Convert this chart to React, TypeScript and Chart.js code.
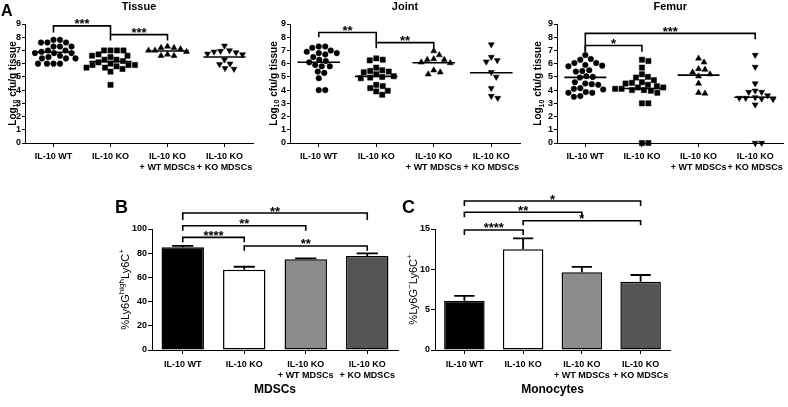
import React, { useEffect, useRef } from 'react';
import { Chart, registerables } from 'chart.js';
Chart.register(...registerables);

const FONT = '"Liberation Sans", Arial, Helvetica, sans-serif';
const SW = 788;
const SH = 407;

// ---------- data ----------
const groupLabels: string[][] = [
  ['IL-10 WT'],
  ['IL-10 KO'],
  ['IL-10 KO', '+ WT MDSCs'],
  ['IL-10 KO', '+ KO MDSCs'],
];
const cfuTicks = [0, 1, 2, 3, 4, 5, 6, 7, 8, 9];
const mdscTicks = [0, 20, 40, 60, 80, 100];
const monoTicks = [0, 5, 10, 15];

// Panel A: log10 cfu/g tissue
const tissueWT = [7.8, 7.8, 7.6, 7.6, 7.6, 7.3, 7.3, 7.3, 7.0, 7.0, 6.9, 6.8, 6.8, 6.8, 6.6, 6.5, 6.4, 6.4, 6.4, 6.0, 6.0, 6.0, 6.0];
const tissueKO = [7.0, 7.0, 7.0, 7.0, 6.7, 6.6, 6.6, 6.5, 6.3, 6.3, 6.2, 6.1, 6.0, 5.9, 5.9, 5.9, 5.8, 5.7, 5.7, 5.6, 5.4, 4.4];
const tissueWTMDSC = [7.3, 7.2, 7.2, 7.1, 7.0, 7.0, 6.9, 6.7, 6.6, 6.6];
const tissueKOMDSC = [7.35, 7.0, 6.95, 6.9, 6.85, 6.75, 6.7, 6.3, 6.0, 5.95, 5.65, 5.6];

const jointWT = [7.3, 7.3, 7.2, 7.0, 6.9, 6.8, 6.8, 6.7, 6.5, 6.3, 6.2, 6.1, 5.9, 5.8, 5.8, 5.3, 5.4, 4.9, 4.0, 4.0];
const jointKO = [6.4, 6.3, 6.25, 5.7, 5.5, 5.45, 5.4, 5.35, 5.2, 5.05, 5.0, 4.95, 4.9, 4.4, 4.3, 4.15, 3.95, 3.9, 3.65];
const jointWTMDSC = [6.95, 6.65, 6.35, 6.3, 6.3, 6.1, 6.05, 5.5, 5.35, 5.2];
const jointKOMDSC = [7.45, 6.5, 6.25, 6.15, 5.35, 5.0, 4.15, 3.55, 3.4];

const femurWT = [6.65, 6.35, 6.3, 6.05, 6.05, 5.9, 5.85, 5.8, 5.5, 5.45, 5.4, 5.05, 5.0, 4.95, 4.6, 4.5, 4.45, 4.4, 4.15, 4.1, 4.05, 3.85, 3.8, 3.8, 3.5, 3.55];
const femurKO = [6.3, 6.2, 5.7, 5.2, 5.0, 4.95, 4.75, 4.6, 4.55, 4.5, 4.4, 4.3, 4.2, 4.1, 4.0, 3.95, 4.0, 4.1, 4.2, 3.8, 3.0, 3.0, 0, 0];
const femurWTMDSC = [6.4, 6.1, 5.6, 5.55, 5.35, 5.2, 5.05, 4.5, 3.8, 3.75];
const femurKOMDSC = [6.65, 5.75, 4.5, 3.95, 3.85, 3.85, 3.6, 3.45, 3.35, 3.4, 3.3, 3.4, 2.9, 0, 0];

// Panel B / C: mean and SEM
const mdscMeans = [85, 66.3, 75, 77.7];
const mdscSEM = [1.0, 2.5, 0.8, 2.2];
const monoMeans = [6.1, 12.5, 9.65, 8.45];
const monoSEM = [0.6, 1.35, 0.65, 0.85];

// brackets: [fromGroup, toGroup, level, dropFrom, dropTo, label]
type Bracket = [number, number, number, number, number, string];
const tissueBrackets: Bracket[] = [
  [0, 1, 8.86, 8.35, 8.2, '***'],
  [1, 2, 8.2, 7.75, 7.75, '***'],
];
const jointBrackets: Bracket[] = [
  [0, 1, 8.36, 8.0, 7.59, '**'],
  [1, 2, 7.59, 7.16, 7.16, '**'],
];
const femurBrackets: Bracket[] = [
  [0, 3, 8.29, 6.91, 7.84, '***'],
  [0, 1, 7.37, 6.91, 6.91, '*'],
];
const mdscBrackets: Bracket[] = [
  [0, 3, 113.2, 107.4, 107.4, '**'],
  [0, 2, 102.7, 98.6, 98.6, '**'],
  [0, 1, 93.1, 89, 89, '****'],
  [1, 3, 86, 82.1, 82.1, '**'],
];
const monoBrackets: Bracket[] = [
  [0, 3, 18.47, 17.85, 17.85, '*'],
  [0, 2, 17.07, 16.45, 16.45, '**'],
  [1, 3, 16.03, 15.46, 15.46, '*'],
  [0, 1, 14.88, 14.26, 14.26, '****'],
];

// ---------- styles / layout ----------
const barColors = ['#000000', '#ffffff', '#8c8c8c', '#555555'];
const markerStyles = ['circle', 'rect', 'triangle', 'triangle'];
const markerRot = [0, 0, 0, 180];
const markerRadius = [2.8, 3.7, 3.5, 3.5];
const YW = 22;
const XH = 30;

type Seg = { t: string; k?: 'sup' | 'sub' };
interface Spec {
  area: { l: number; r: number; t: number; b: number };
  letter?: { text: string; x: number; y: number; size: number };
  title: string;
  titleY: number;
  titleSize: number;
  yTitle: Seg[];
  yTitleX: number;
  yTitleSize: number;
  yTitleBold: boolean;
  brackets: Bracket[];
  starSize: number;
  starOffset: number;
  means?: number[];
  errs?: number[];
}

const logTitle: Seg[] = [{ t: 'Log' }, { t: '10', k: 'sub' }, { t: ' cfu/g tissue' }];

function mean(a: number[]) {
  return a.reduce((s, v) => s + v, 0) / a.length;
}

function swarm(vals: number[], pxX: number, pxY: number, d: number): number[] {
  const idx = vals.map((_, i) => i).sort((a, b) => vals[b] - vals[a]);
  const placed: [number, number][] = [];
  const out = new Array(vals.length).fill(0);
  for (const i of idx) {
    const y = vals[i] * pxY;
    for (let k = 0; k < 400; k++) {
      const c = (k % 2 === 1 ? 1 : -1) * Math.ceil(k / 2) * 0.5;
      if (placed.every(([px, py]) => Math.hypot(px - c, py - y) >= d)) {
        out[i] = c / pxX;
        placed.push([c, y]);
        break;
      }
    }
  }
  return out;
}

function drawRich(ctx: CanvasRenderingContext2D, segs: Seg[], x: number, y: number, size: number, bold: boolean) {
  ctx.save();
  ctx.translate(x, y);
  ctx.rotate(-Math.PI / 2);
  const w = bold ? 'bold ' : '';
  const fontFor = (s: Seg) => `${w}${s.k ? Math.round(size * 0.7) : size}px ${FONT}`;
  let total = 0;
  for (const s of segs) {
    ctx.font = fontFor(s);
    total += ctx.measureText(s.t).width;
  }
  let cx = -total / 2;
  ctx.textAlign = 'left';
  ctx.textBaseline = 'alphabetic';
  ctx.fillStyle = '#000';
  const base = size * 0.36;
  for (const s of segs) {
    ctx.font = fontFor(s);
    const dy = s.k === 'sup' ? -size * 0.42 : s.k === 'sub' ? size * 0.28 : 0;
    ctx.fillText(s.t, cx, base + dy);
    cx += ctx.measureText(s.t).width;
  }
  ctx.restore();
}

function decor(spec: Spec) {
  return {
    id: 'decor',
    afterDraw(chart: any) {
      const ctx: CanvasRenderingContext2D = chart.ctx;
      const xs = chart.scales.x;
      const ys = chart.scales.y;
      const ca = chart.chartArea;
      ctx.save();
      ctx.fillStyle = '#000';
      ctx.strokeStyle = '#000';
      if (spec.letter) {
        ctx.font = `bold ${spec.letter.size}px ${FONT}`;
        ctx.textAlign = 'left';
        ctx.textBaseline = 'alphabetic';
        ctx.fillText(spec.letter.text, spec.letter.x, spec.letter.y);
      }
      ctx.font = `bold ${spec.titleSize}px ${FONT}`;
      ctx.textAlign = 'center';
      ctx.textBaseline = 'middle';
      ctx.fillText(spec.title, (ca.left + ca.right) / 2, spec.titleY);
      drawRich(ctx, spec.yTitle, spec.yTitleX, (ca.top + ca.bottom) / 2, spec.yTitleSize, spec.yTitleBold);

      // error bars
      if (spec.means && spec.errs) {
        const meta = chart.getDatasetMeta(0);
        ctx.lineWidth = 1.8;
        meta.data.forEach((bar: any, i: number) => {
          const y0 = ys.getPixelForValue(spec.means![i]);
          const y1 = ys.getPixelForValue(spec.means![i] + spec.errs![i]);
          const hw = bar.width * 0.25;
          ctx.beginPath();
          ctx.moveTo(bar.x, y0);
          ctx.lineTo(bar.x, y1);
          ctx.moveTo(bar.x - hw, y1);
          ctx.lineTo(bar.x + hw, y1);
          ctx.stroke();
        });
      }

      // significance brackets
      ctx.lineWidth = 1.6;
      for (const [a, b, lv, da, db, label] of spec.brackets) {
        const xa = xs.getPixelForValue(a);
        const xb = xs.getPixelForValue(b);
        const y = ys.getPixelForValue(lv);
        ctx.beginPath();
        ctx.moveTo(xa, ys.getPixelForValue(da));
        ctx.lineTo(xa, y);
        ctx.lineTo(xb, y);
        ctx.lineTo(xb, ys.getPixelForValue(db));
        ctx.stroke();
        ctx.font = `bold ${spec.starSize}px ${FONT}`;
        ctx.textAlign = 'center';
        ctx.textBaseline = 'alphabetic';
        ctx.fillText(label, (xa + xb) / 2, y + spec.starOffset);
      }
      ctx.restore();
    },
  };
}

function padFor(area: Spec['area']) {
  return { left: area.l - YW, right: SW - area.r, top: area.t, bottom: SH - area.b - XH };
}

function axisCommon(tickLen: number) {
  return {
    grid: { drawOnChartArea: false, drawTicks: true, tickLength: tickLen, color: '#000', lineWidth: 1 },
    border: { display: true, color: '#000', width: 1 },
  };
}

const tickFont = { family: FONT, size: 9, weight: 'bold' };

function scatterConfig(spec: Spec, groups: number[][]) {
  const pxX = (spec.area.r - spec.area.l) / 4;
  const pxY = (spec.area.b - spec.area.t) / 9;
  const datasets: any[] = [];
  groups.forEach((vals, g) => {
    const offs = swarm(vals, pxX, pxY, 6.5);
    datasets.push({
      type: 'scatter',
      data: vals.map((v, i) => ({ x: g + offs[i], y: v })),
      pointStyle: markerStyles[g],
      pointRotation: markerRot[g],
      pointRadius: markerRadius[g],
      pointBackgroundColor: '#000',
      pointBorderColor: '#000',
      pointBorderWidth: 0.5,
      showLine: false,
      clip: false,
    });
  });
  groups.forEach((vals, g) => {
    const m = mean(vals);
    datasets.push({
      type: 'scatter',
      data: [
        { x: g - 0.37, y: m },
        { x: g + 0.37, y: m },
      ],
      showLine: true,
      borderColor: '#000',
      borderWidth: 1.6,
      pointRadius: 0,
      clip: false,
    });
  });
  return {
    type: 'scatter',
    data: { datasets },
    options: {
      animation: false,
      responsive: false,
      events: [],
      layout: { padding: padFor(spec.area) },
      plugins: { legend: { display: false }, tooltip: { enabled: false }, title: { display: false } },
      scales: {
        x: {
          type: 'linear',
          min: -0.5,
          max: 3.5,
          afterBuildTicks: (ax: any) => {
            ax.ticks = groupLabels.map((_, i) => ({ value: i }));
          },
          afterFit: (ax: any) => {
            ax.height = XH;
          },
          ticks: {
            callback: (v: number) => groupLabels[v] ?? '',
            font: tickFont,
            color: '#000',
            padding: 4,
            maxRotation: 0,
            autoSkip: false,
          },
          ...axisCommon(4),
        },
        y: {
          min: 0,
          max: 9,
          afterBuildTicks: (ax: any) => {
            ax.ticks = cfuTicks.map((v) => ({ value: v }));
          },
          afterFit: (ax: any) => {
            ax.width = YW;
          },
          ticks: { font: tickFont, color: '#000', padding: 1, autoSkip: false },
          ...axisCommon(3),
        },
      },
    },
    plugins: [decor(spec)],
  };
}

function barConfig(spec: Spec, means: number[], ticks: number[], maxV: number) {
  return {
    type: 'bar',
    data: {
      labels: groupLabels,
      datasets: [
        {
          data: means,
          backgroundColor: barColors,
          borderColor: '#000',
          borderWidth: 1.5,
          borderSkipped: false,
          barPercentage: 0.69,
          categoryPercentage: 1,
        },
      ],
    },
    options: {
      animation: false,
      responsive: false,
      events: [],
      layout: { padding: padFor(spec.area) },
      plugins: { legend: { display: false }, tooltip: { enabled: false }, title: { display: false } },
      scales: {
        x: {
          type: 'category',
          afterFit: (ax: any) => {
            ax.height = XH;
          },
          ticks: {
            font: tickFont,
            color: '#000',
            padding: 5,
            maxRotation: 0,
            autoSkip: false,
          },
          ...axisCommon(4),
          grid: { offset: false, drawOnChartArea: false, drawTicks: true, tickLength: 4, color: '#000', lineWidth: 1 },
        },
        y: {
          min: 0,
          max: maxV,
          afterBuildTicks: (ax: any) => {
            ax.ticks = ticks.map((v) => ({ value: v }));
          },
          afterFit: (ax: any) => {
            ax.width = YW;
          },
          ticks: { font: tickFont, color: '#000', padding: 1, autoSkip: false },
          ...axisCommon(4),
        },
      },
    },
    plugins: [decor(spec)],
  };
}

const tissueSpec: Spec = {
  area: { l: 25, r: 253, t: 24, b: 143 },
  letter: { text: 'A', x: 1, y: 16, size: 16 },
  title: 'Tissue', titleY: 6.5, titleSize: 11,
  yTitle: logTitle, yTitleX: 12, yTitleSize: 10, yTitleBold: true,
  brackets: tissueBrackets, starSize: 13, starOffset: 2.5,
};
const jointSpec: Spec = {
  area: { l: 290, r: 520, t: 24, b: 143 },
  title: 'Joint', titleY: 6.5, titleSize: 11,
  yTitle: logTitle, yTitleX: 273, yTitleSize: 10, yTitleBold: true,
  brackets: jointBrackets, starSize: 13, starOffset: 2.5,
};
const femurSpec: Spec = {
  area: { l: 557, r: 785, t: 24, b: 143 },
  title: 'Femur', titleY: 6.5, titleSize: 11,
  yTitle: logTitle, yTitleX: 537.5, yTitleSize: 10, yTitleBold: true,
  brackets: femurBrackets, starSize: 13, starOffset: 2.5,
};
const mdscSpec: Spec = {
  area: { l: 152, r: 398, t: 229, b: 350 },
  letter: { text: 'B', x: 115, y: 213, size: 18 },
  title: 'MDSCs', titleY: 390, titleSize: 12,
  yTitle: [{ t: '%Ly6G' }, { t: 'high', k: 'sup' }, { t: 'Ly6C' }, { t: '+', k: 'sup' }],
  yTitleX: 125, yTitleSize: 11, yTitleBold: false,
  brackets: mdscBrackets, starSize: 13, starOffset: 2.5,
  means: mdscMeans, errs: mdscSEM,
};
const monoSpec: Spec = {
  area: { l: 435, r: 670, t: 229, b: 350 },
  letter: { text: 'C', x: 402, y: 213, size: 18 },
  title: 'Monocytes', titleY: 390, titleSize: 12,
  yTitle: [{ t: '%Ly6G' }, { t: '\u2212', k: 'sup' }, { t: 'Ly6C' }, { t: '+', k: 'sup' }],
  yTitleX: 413, yTitleSize: 11, yTitleBold: false,
  brackets: monoBrackets, starSize: 13, starOffset: 2.5,
  means: monoMeans, errs: monoSEM,
};

const makers: (() => any)[] = [
  () => scatterConfig(tissueSpec, [tissueWT, tissueKO, tissueWTMDSC, tissueKOMDSC]),
  () => scatterConfig(jointSpec, [jointWT, jointKO, jointWTMDSC, jointKOMDSC]),
  () => scatterConfig(femurSpec, [femurWT, femurKO, femurWTMDSC, femurKOMDSC]),
  () => barConfig(mdscSpec, mdscMeans, mdscTicks, 100),
  () => barConfig(monoSpec, monoMeans, monoTicks, 15),
];

function ChartLayer({ make }: { make: () => any }) {
  const ref = useRef<HTMLCanvasElement | null>(null);
  useEffect(() => {
    if (!ref.current) return;
    const chart = new Chart(ref.current, make());
    return () => chart.destroy();
  }, [make]);
  return (
    <canvas
      ref={ref}
      width={SW}
      height={SH}
      style={{ position: 'absolute', left: 0, top: 0, width: SW, height: SH }}
    />
  );
}

export default function App() {
  return (
    <div style={{ position: 'fixed', left: 0, top: 0, width: SW, height: SH, background: '#fff', overflow: 'hidden' }}>
      {makers.map((m, i) => (
        <ChartLayer key={i} make={m} />
      ))}
    </div>
  );
}
